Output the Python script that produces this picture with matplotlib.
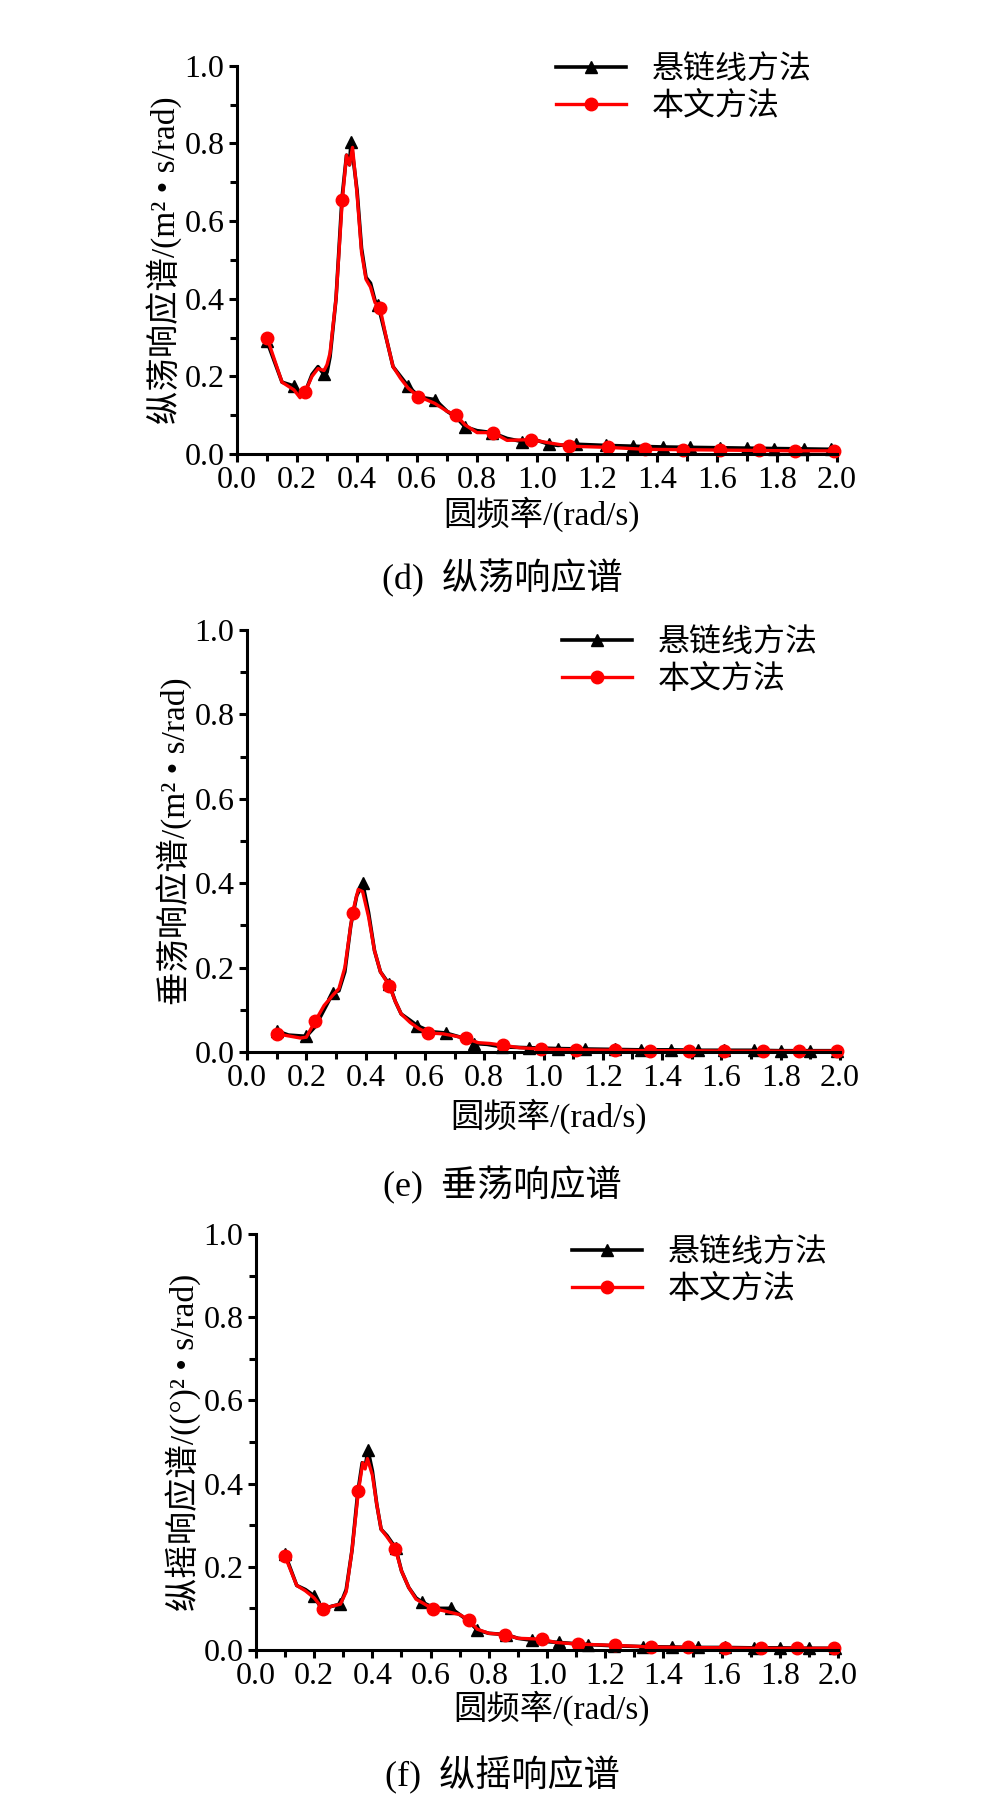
import numpy as np
import matplotlib
matplotlib.use('Agg')
import matplotlib.pyplot as plt
from matplotlib.ticker import MultipleLocator

plt.rcParams['font.family'] = ['Liberation Serif', 'Noto Sans CJK SC']
plt.rcParams['axes.unicode_minus'] = False

legend_labels = ['悬链线方法', '本文方法']
xlabel = '圆频率/(rad/s)'

# (d) surge spectrum
surge_f_cat = [0.10, 0.15, 0.19, 0.21, 0.23, 0.25, 0.27, 0.29, 0.30, 0.31, 0.33, 0.35, 0.365, 0.375, 0.38,
               0.40, 0.415, 0.43, 0.445, 0.46, 0.47, 0.50, 0.52, 0.545, 0.57, 0.59, 0.62, 0.66, 0.70, 0.73,
               0.76, 0.80, 0.85, 0.90, 0.95, 1.00, 1.04, 1.07, 1.13, 1.23, 1.32, 1.42, 1.51, 1.61, 1.70,
               1.79, 1.89, 1.98]
surge_cat = [0.29, 0.185, 0.175, 0.15, 0.165, 0.205, 0.225, 0.205, 0.21, 0.25, 0.40, 0.66, 0.77, 0.745, 0.805,
             0.68, 0.53, 0.455, 0.44, 0.395, 0.385, 0.29, 0.225, 0.20, 0.175, 0.16, 0.145, 0.14, 0.11, 0.095,
             0.07, 0.06, 0.055, 0.04, 0.032, 0.035, 0.025, 0.022, 0.025, 0.022, 0.02, 0.018, 0.017, 0.016, 0.015,
             0.014, 0.013, 0.012]
surge_mark_cat = [0.10, 0.19, 0.29, 0.38, 0.47, 0.57, 0.66, 0.76, 0.85, 0.95, 1.04, 1.13, 1.23, 1.32, 1.42,
                  1.51, 1.61, 1.70, 1.79, 1.89, 1.98]
surge_f_new = [0.10, 0.15, 0.19, 0.21, 0.227, 0.25, 0.27, 0.29, 0.30, 0.31, 0.33, 0.351, 0.365, 0.375, 0.385,
               0.40, 0.415, 0.43, 0.445, 0.46, 0.477, 0.50, 0.52, 0.545, 0.57, 0.604, 0.63, 0.66, 0.70, 0.73,
               0.76, 0.80, 0.854, 0.90, 0.98, 1.03, 1.108, 1.236, 1.36, 1.486, 1.61, 1.74, 1.86, 1.99]
surge_new = [0.30, 0.185, 0.165, 0.145, 0.16, 0.20, 0.22, 0.215, 0.23, 0.26, 0.40, 0.655, 0.77, 0.745, 0.79,
             0.67, 0.52, 0.45, 0.43, 0.39, 0.375, 0.29, 0.225, 0.195, 0.17, 0.148, 0.14, 0.13, 0.11, 0.10,
             0.075, 0.055, 0.055, 0.035, 0.037, 0.03, 0.02, 0.017, 0.012, 0.011, 0.01, 0.009, 0.008, 0.008]
surge_mark_new = [0.10, 0.227, 0.351, 0.477, 0.604, 0.73, 0.854, 0.98, 1.108, 1.236, 1.36, 1.486, 1.61,
                  1.74, 1.86, 1.99]

# (e) heave spectrum
heave_f_cat = [0.10, 0.14, 0.20, 0.23, 0.26, 0.29, 0.31, 0.33, 0.35, 0.37, 0.39, 0.41, 0.43, 0.45, 0.48,
               0.50, 0.52, 0.55, 0.575, 0.62, 0.67, 0.72, 0.765, 0.81, 0.86, 0.95, 1.05, 1.14, 1.24, 1.33,
               1.43, 1.52, 1.61, 1.71, 1.80, 1.90, 1.99]
heave_cat = [0.05, 0.04, 0.037, 0.06, 0.10, 0.14, 0.145, 0.19, 0.30, 0.37, 0.40, 0.33, 0.24, 0.19, 0.16,
             0.12, 0.09, 0.075, 0.062, 0.048, 0.045, 0.035, 0.02, 0.018, 0.012, 0.01, 0.008, 0.007, 0.006, 0.005,
             0.005, 0.004, 0.004, 0.004, 0.003, 0.003, 0.003]
heave_mark_cat = [0.10, 0.20, 0.29, 0.39, 0.48, 0.575, 0.67, 0.765, 0.86, 0.95, 1.05, 1.14, 1.24, 1.33, 1.43,
                  1.52, 1.61, 1.71, 1.80, 1.90, 1.99]
heave_f_new = [0.10, 0.14, 0.18, 0.20, 0.23, 0.26, 0.29, 0.31, 0.33, 0.356, 0.375, 0.39, 0.41, 0.43, 0.45,
               0.48, 0.50, 0.52, 0.55, 0.58, 0.61, 0.66, 0.70, 0.737, 0.78, 0.82, 0.862, 0.92, 0.99, 1.11,
               1.24, 1.36, 1.49, 1.61, 1.74, 1.86, 1.99]
heave_new = [0.043, 0.038, 0.033, 0.035, 0.073, 0.11, 0.135, 0.15, 0.20, 0.33, 0.385, 0.38, 0.32, 0.24, 0.19,
             0.157, 0.12, 0.09, 0.07, 0.055, 0.045, 0.043, 0.038, 0.032, 0.022, 0.02, 0.016, 0.01, 0.007, 0.005,
             0.004, 0.003, 0.003, 0.002, 0.002, 0.002, 0.002]
heave_mark_new = [0.10, 0.23, 0.356, 0.48, 0.61, 0.737, 0.862, 0.99, 1.11, 1.24, 1.36, 1.49, 1.61, 1.74,
                  1.86, 1.99]

# (f) pitch spectrum
pitch_f_cat = [0.10, 0.14, 0.17, 0.20, 0.22, 0.24, 0.26, 0.29, 0.31, 0.33, 0.35, 0.365, 0.375, 0.385, 0.40,
               0.415, 0.43, 0.45, 0.48, 0.50, 0.525, 0.55, 0.57, 0.60, 0.63, 0.67, 0.70, 0.73, 0.76, 0.80,
               0.86, 0.90, 0.95, 1.00, 1.04, 1.14, 1.23, 1.33, 1.43, 1.52, 1.61, 1.71, 1.80, 1.90, 1.99]
pitch_cat = [0.23, 0.155, 0.145, 0.13, 0.105, 0.10, 0.105, 0.11, 0.145, 0.24, 0.38, 0.45, 0.44, 0.48, 0.43,
             0.35, 0.29, 0.275, 0.245, 0.19, 0.15, 0.125, 0.115, 0.105, 0.10, 0.10, 0.085, 0.07, 0.048, 0.04,
             0.037, 0.028, 0.023, 0.02, 0.018, 0.013, 0.01, 0.008, 0.007, 0.006, 0.006, 0.005, 0.005, 0.004, 0.004]
pitch_mark_cat = [0.10, 0.20, 0.29, 0.385, 0.48, 0.57, 0.67, 0.76, 0.86, 0.95, 1.04, 1.14, 1.23, 1.33, 1.43,
                  1.52, 1.61, 1.71, 1.80, 1.90, 1.99]
pitch_f_new = [0.10, 0.14, 0.17, 0.20, 0.231, 0.26, 0.29, 0.31, 0.33, 0.352, 0.367, 0.375, 0.383, 0.40, 0.415,
               0.43, 0.45, 0.479, 0.50, 0.525, 0.55, 0.58, 0.609, 0.64, 0.67, 0.70, 0.732, 0.76, 0.80, 0.857,
               0.90, 0.982, 1.03, 1.108, 1.235, 1.358, 1.484, 1.61, 1.734, 1.86, 1.985]
pitch_new = [0.225, 0.155, 0.142, 0.125, 0.098, 0.105, 0.11, 0.14, 0.24, 0.382, 0.45, 0.435, 0.46, 0.42, 0.35,
             0.29, 0.272, 0.243, 0.19, 0.15, 0.122, 0.11, 0.098, 0.095, 0.09, 0.085, 0.072, 0.05, 0.04, 0.037,
             0.028, 0.026, 0.018, 0.014, 0.011, 0.007, 0.006, 0.005, 0.004, 0.004, 0.004]
pitch_mark_new = [0.10, 0.231, 0.352, 0.479, 0.609, 0.732, 0.857, 0.982, 1.108, 1.235, 1.358, 1.484, 1.61,
                  1.734, 1.86, 1.985]


def mark_index(freq, marks):
    freq = np.asarray(freq)
    return [int(np.argmin(np.abs(freq - m))) for m in marks]


panels = [
    dict(fc=surge_f_cat, vc=surge_cat, mc=surge_mark_cat, fn=surge_f_new, vn=surge_new, mn=surge_mark_new,
         ylabel='纵荡响应谱/(m² • s/rad)', caption='(d)  纵荡响应谱',
         pos=[0.2375, 0.7485, 0.6012, 0.2150], leg=(556, 55), cap_y=578, xl_y=514),
    dict(fc=heave_f_cat, vc=heave_cat, mc=heave_mark_cat, fn=heave_f_new, vn=heave_new, mn=heave_mark_new,
         ylabel='垂荡响应谱/(m² • s/rad)', caption='(e)  垂荡响应谱',
         pos=[0.2475, 0.4172, 0.5942, 0.2338], leg=(562, 628), cap_y=1185, xl_y=1116),
    dict(fc=pitch_f_cat, vc=pitch_cat, mc=pitch_mark_cat, fn=pitch_f_new, vn=pitch_new, mn=pitch_mark_new,
         ylabel='纵摇响应谱/((°)² • s/rad)', caption='(f)  纵摇响应谱',
         pos=[0.2565, 0.0859, 0.5832, 0.2305], leg=(572, 1238), cap_y=1775, xl_y=1708),
]

W, H = 998, 1805
fig = plt.figure(figsize=(W / 100, H / 100), dpi=100)

for p in panels:
    ax = fig.add_axes(p['pos'])
    ax.plot(p['fc'], p['vc'], color='black', lw=2.6, marker='^', ms=9,
            markevery=mark_index(p['fc'], p['mc']), label=legend_labels[0], clip_on=False)
    ax.plot(p['fn'], p['vn'], color='#ff0000', lw=2.4, marker='o', ms=9,
            markevery=mark_index(p['fn'], p['mn']), label=legend_labels[1], clip_on=False)

    ax.set_xlim(0, 2.0)
    ax.set_ylim(0, 1.0)
    ax.xaxis.set_major_locator(MultipleLocator(0.2))
    ax.xaxis.set_minor_locator(MultipleLocator(0.1))
    ax.yaxis.set_major_locator(MultipleLocator(0.2))
    ax.yaxis.set_minor_locator(MultipleLocator(0.1))
    ax.xaxis.set_major_formatter(lambda v, pos: f'{v:.1f}')
    ax.yaxis.set_major_formatter(lambda v, pos: f'{v:.1f}')
    for s in ['top', 'right']:
        ax.spines[s].set_visible(False)
    for s in ['left', 'bottom']:
        ax.spines[s].set_linewidth(2.2)
    ax.tick_params(which='major', direction='out', length=6, width=2.2, labelsize=23, pad=3)
    ax.tick_params(which='minor', direction='out', length=5, width=2.2)

    ax.set_ylabel(p['ylabel'], fontsize=24, labelpad=2)
    fig.text(0.5 * (p['pos'][0] + p['pos'][0] + p['pos'][2]) + 0.005, 1 - p['xl_y'] / H, xlabel,
             fontsize=24, ha='center', va='center')
    fig.text(0.503, 1 - p['cap_y'] / H, p['caption'], fontsize=26, ha='center', va='center')

    ax.legend(loc='upper left', bbox_to_anchor=(p['leg'][0] / W, 1 - p['leg'][1] / H),
              bbox_transform=fig.transFigure, frameon=False, fontsize=23, borderpad=0,
              borderaxespad=0, handlelength=2.2, handletextpad=0.8, labelspacing=0.22)

fig.savefig('out.png', dpi=100)
